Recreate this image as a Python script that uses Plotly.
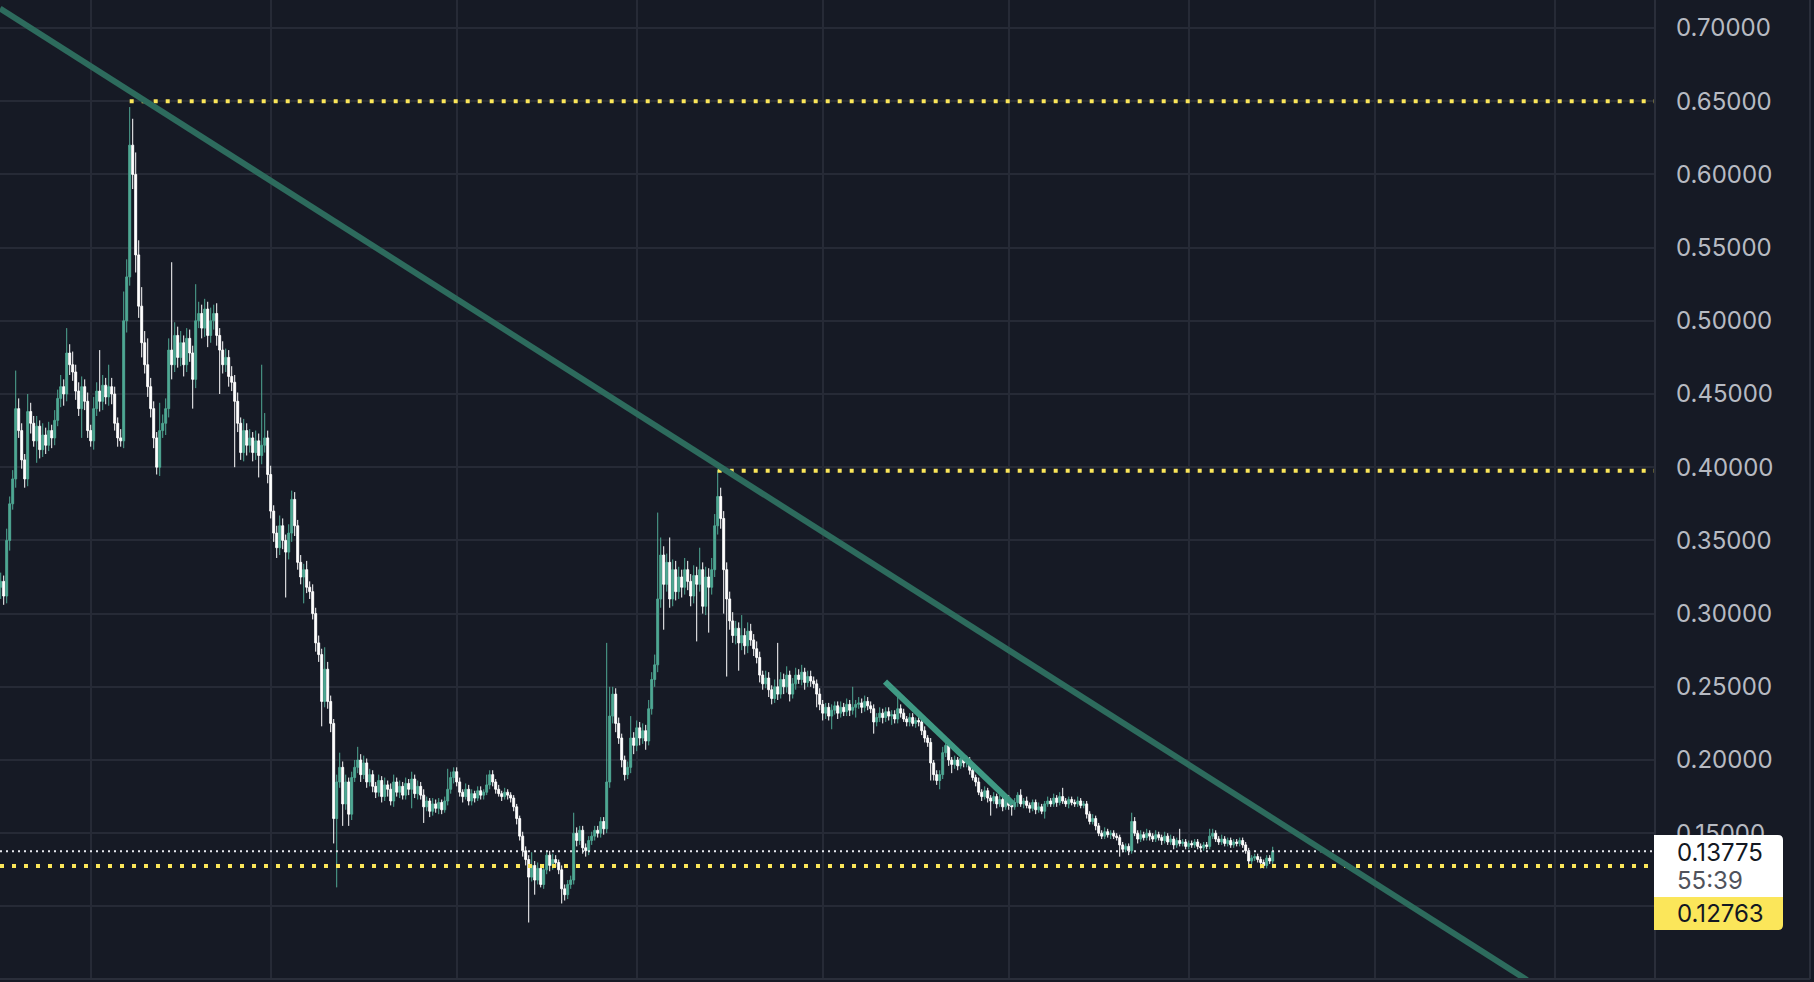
import plotly.graph_objects as go
import pandas as pd

# ---------------- data (12h candles, prices in thousandths) ----------------
START = "2024-03-17 00:00"
OPEN0 = 0.318
CLOSE_MILLI = [
    322, 312, 350, 375, 392, 440, 425, 405, 392, 438, 430, 418, 428, 412, 422, 415, 425, 420, 432, 447, 455, 450, 478, 470, 465,
    452, 440, 455, 445, 425, 418, 440, 452, 445, 456, 448, 455, 450, 430, 420, 418, 500, 530, 620, 600, 545, 510, 485, 470, 455,
    440, 420, 400, 425, 430, 440, 480, 470, 490, 475, 485, 470, 488, 478, 460, 500, 505, 495, 508, 490, 500, 505, 490, 480, 470,
    475, 462, 458, 445, 430, 410, 425, 415, 420, 410, 418, 408, 415, 420, 395, 370, 355, 345, 360, 350, 342, 355, 378, 360, 335,
    325, 330, 318, 315, 300, 280, 272, 240, 262, 240, 225, 160, 185, 195, 170, 185, 163, 188, 195, 200, 190, 198, 185, 190, 182,
    178, 186, 175, 183, 180, 172, 185, 178, 182, 176, 184, 180, 187, 177, 182, 176, 168, 172, 165, 170, 167, 171, 166, 172, 180,
    188, 192, 185, 178, 175, 180, 172, 177, 174, 179, 176, 178, 183, 190, 185, 180, 177, 175, 178, 176, 174, 168, 160, 148, 138,
    132, 120, 128, 118, 126, 115, 125, 135, 128, 132, 130, 125, 112, 108, 115, 118, 150, 145, 152, 140, 138, 145, 148, 152, 150,
    158, 153, 185, 230, 245, 225, 215, 200, 190, 195, 215, 210, 222, 215, 220, 213, 235, 255, 265, 310, 340, 320, 335, 310, 330,
    315, 325, 318, 330, 322, 312, 326, 320, 330, 305, 325, 318, 330, 360, 380, 365, 330, 310, 295, 285, 290, 280, 285, 278, 288,
    282, 276, 270, 258, 252, 256, 248, 242, 250, 245, 255, 250, 258, 245, 252, 258, 255, 260, 253, 257, 254, 252, 245, 238, 232,
    236, 230, 234, 237, 232, 236, 233, 238, 234, 236, 238, 239, 236, 240, 237, 235, 226, 229, 232, 229, 233, 230, 231, 228, 235,
    232, 228, 226, 229, 225, 227, 226, 220, 215, 212, 198, 190, 186, 190, 205, 210, 200, 197, 200, 196, 201, 198, 200, 193, 188,
    185, 178, 175, 179, 174, 172, 175, 170, 173, 168, 174, 169, 168, 171, 176, 170, 172, 169, 167, 171, 166, 168, 165, 170, 172,
    170, 174, 171, 175, 172, 170, 173, 171, 170, 172, 169, 170, 163, 158, 160, 155, 150, 148, 151, 149, 150, 148, 147, 142, 139,
    141, 138, 158, 150, 146, 149, 147, 150, 148, 146, 149, 147, 145, 148, 144, 146, 142, 145, 143, 144, 141, 143, 142, 144, 141,
    140, 142, 141, 148, 150, 146, 144, 146, 143, 145, 142, 144, 143, 145, 142, 138, 131, 133, 134, 132, 130, 128, 133, 131, 137.75,
]
WICK_UP_MILLI = [
    6, 4, 8, 5, 6, 26, 7, 5, 4, 12, 6, 5, 7, 4, 8, 5, 6, 4, 7, 6, 8, 5, 17, 6, 9,
    5, 6, 7, 5, 6, 4, 8, 6, 28, 7, 5, 15, 6, 5, 4, 6, 20, 12, 26, 18, 15, 10, 13, 8, 18,
    6, 5, 4, 19, 6, 7, 8, 60, 9, 6, 8, 5, 7, 6, 5, 25, 8, 6, 7, 5, 9, 6, 7, 5, 6,
    6, 5, 7, 5, 6, 4, 8, 5, 6, 4, 7, 5, 55, 17, 5, 6, 4, 5, 7, 5, 4, 6, 6, 5, 4,
    5, 4, 6, 4, 5, 4, 5, 4, 15, 5, 4, 3, 5, 10, 4, 5, 3, 4, 5, 9, 4, 5, 3, 4, 3,
    3, 4, 3, 5, 3, 4, 5, 3, 4, 3, 4, 3, 5, 3, 4, 3, 4, 3, 2, 4, 3, 3, 2, 3, 14,
    4, 3, 3, 3, 2, 4, 3, 3, 2, 3, 3, 2, 7, 3, 3, 2, 3, 2, 3, 2, 2, 2, 2, 2, 3,
    3, 3, 9, 3, 4, 3, 4, 3, 3, 4, 3, 2, 3, 3, 3, 3, 14, 4, 3, 3, 3, 3, 3, 3, 3,
    3, 3, 95, 20, 5, 4, 4, 3, 3, 4, 15, 4, 5, 4, 5, 4, 6, 5, 7, 59, 12, 6, 6, 17, 7,
    6, 7, 5, 8, 6, 5, 7, 6, 15, 5, 7, 6, 8, 8, 18, 6, 5, 5, 5, 6, 5, 4, 14, 5, 6,
    5, 4, 5, 4, 3, 5, 4, 3, 5, 30, 5, 4, 6, 3, 4, 5, 4, 5, 3, 4, 4, 3, 3, 4, 3,
    3, 3, 4, 3, 3, 4, 3, 4, 3, 14, 3, 4, 3, 4, 3, 3, 3, 3, 4, 3, 3, 3, 3, 3, 11,
    3, 3, 2, 3, 3, 2, 3, 2, 3, 2, 3, 2, 3, 3, 4, 5, 3, 2, 3, 2, 3, 2, 3, 2, 3,
    2, 3, 2, 3, 2, 2, 3, 2, 3, 2, 3, 2, 2, 3, 2, 4, 2, 3, 2, 2, 2, 3, 2, 2, 3,
    2, 3, 2, 3, 6, 2, 2, 2, 2, 3, 2, 2, 2, 2, 3, 2, 2, 2, 3, 2, 2, 2, 2, 2, 2,
    2, 2, 6, 3, 2, 3, 2, 3, 2, 2, 3, 2, 2, 3, 2, 3, 2, 2, 8, 2, 2, 2, 2, 2, 2,
    2, 2, 2, 5, 3, 2, 2, 3, 2, 2, 2, 2, 2, 2, 2, 2, 2, 2, 2, 2, 2, 2, 2, 2, 3,
]
WICK_DN_MILLI = [
    8, 6, 5, 7, 4, 6, 5, 6, 6, 5, 7, 4, 15, 6, 5, 6, 4, 7, 5, 4, 6, 8, 5, 7, 6,
    6, 5, 20, 6, 5, 4, 6, 5, 7, 6, 5, 6, 7, 5, 6, 4, 5, 8, 6, 10, 12, 8, 10, 6, 7,
    6, 7, 5, 6, 5, 8, 6, 10, 5, 7, 6, 8, 5, 6, 20, 6, 5, 7, 6, 8, 5, 6, 7, 30, 6,
    5, 7, 6, 45, 6, 5, 6, 7, 5, 6, 5, 15, 6, 5, 6, 5, 6, 7, 5, 6, 31, 5, 6, 7, 5,
    5, 18, 4, 5, 4, 6, 5, 17, 4, 5, 6, 17, 47, 4, 15, 4, 8, 4, 3, 4, 5, 3, 4, 3, 4,
    4, 3, 4, 3, 5, 3, 4, 3, 4, 3, 3, 4, 13, 3, 4, 3, 11, 3, 4, 3, 3, 4, 3, 2, 3,
    3, 4, 3, 3, 4, 2, 3, 3, 3, 2, 3, 3, 2, 3, 3, 3, 2, 3, 2, 3, 3, 3, 4, 3, 4,
    4, 31, 3, 10, 3, 2, 3, 3, 4, 3, 3, 3, 10, 4, 3, 3, 3, 4, 3, 4, 4, 3, 3, 3, 3,
    3, 4, 3, 4, 5, 6, 4, 5, 4, 3, 4, 6, 4, 5, 4, 6, 3, 4, 5, 5, 6, 31, 5, 6, 5,
    6, 5, 7, 5, 6, 7, 5, 39, 5, 5, 6, 31, 5, 5, 6, 7, 30, 53, 6, 5, 6, 19, 5, 6, 5,
    4, 5, 4, 5, 4, 3, 5, 4, 3, 4, 3, 5, 4, 5, 3, 4, 3, 4, 5, 3, 4, 3, 9, 4, 5,
    4, 3, 9, 3, 4, 3, 3, 3, 4, 3, 7, 3, 4, 3, 3, 3, 8, 3, 3, 4, 3, 3, 6, 3, 3,
    3, 2, 3, 3, 2, 3, 3, 3, 3, 3, 12, 4, 3, 6, 3, 3, 4, 6, 3, 3, 2, 3, 3, 3, 2,
    3, 2, 3, 2, 3, 10, 2, 3, 2, 3, 2, 3, 6, 2, 3, 2, 3, 2, 3, 2, 3, 2, 2, 5, 2,
    2, 2, 3, 2, 2, 2, 3, 2, 2, 2, 2, 2, 3, 2, 2, 3, 2, 2, 2, 2, 3, 2, 2, 8, 2,
    2, 3, 2, 2, 3, 2, 2, 2, 3, 2, 2, 2, 3, 2, 2, 2, 3, 2, 2, 2, 2, 2, 2, 2, 2,
    2, 2, 2, 2, 2, 2, 2, 2, 2, 2, 2, 2, 2, 2, 2, 2, 3, 2, 2, 2, 4, 2, 2, 2, 2,
]

Y_TICKS = [0.10, 0.15, 0.20, 0.25, 0.30, 0.35, 0.40, 0.45, 0.50, 0.55, 0.60, 0.65, 0.70]
LAST_PRICE = 0.13775
COUNTDOWN = "55:39"
LEVEL_LOW = 0.12763
LEVEL_MID = 0.3976
LEVEL_HIGH = 0.65
LEVEL_HIGH_START = "2024-04-07 12:00"
LEVEL_MID_START = "2024-07-14 12:00"
TREND_LONG_X = ["2024-03-16 21:12", "2024-11-26 09:12"]
TREND_LONG_Y = [0.71332, 0.04973]
TREND_SHORT_X = ["2024-08-11 09:12", "2024-09-01 17:12"]
TREND_SHORT_Y = [0.2535, 0.1700]
X_RANGE = ["2024-03-16 21:12", "2024-12-17 17:12"]
Y_RANGE = [0.05041, 0.71913]

# ---------------- build candles ----------------
dates = pd.date_range(START, periods=len(CLOSE_MILLI), freq="12h")
close = [c / 1000 for c in CLOSE_MILLI]
open_ = [OPEN0] + close[:-1]
high = [max(o, c) + w / 1000 for o, c, w in zip(open_, close, WICK_UP_MILLI)]
low = [min(o, c) - w / 1000 for o, c, w in zip(open_, close, WICK_DN_MILLI)]

BG = "#161a25"
GRID = "#262a36"
UP = "#4fa893"
DOWN = "#ffffff"
YELLOW = "#fbe65a"
W, H = 1814, 982
PW, PH = 1655, 979  # plot area size in px

fig = go.Figure()
fig.add_trace(go.Candlestick(
    x=dates, open=open_, high=high, low=low, close=close,
    increasing=dict(line=dict(color=UP, width=1), fillcolor=UP),
    decreasing=dict(line=dict(color=DOWN, width=1), fillcolor=DOWN),
    whiskerwidth=0, hoverinfo="skip", showlegend=False,
))


def px2paper(x, y):
    return x / PW, (PH - y) / PH


def rounded_box(x0, y0, x1, y1, r_tr, r_br):
    a = px2paper(x0, y0); b = px2paper(x1 - r_tr, y0); c = px2paper(x1, y0); d = px2paper(x1, y0 + r_tr)
    e = px2paper(x1, y1 - r_br); f = px2paper(x1, y1); g = px2paper(x1 - r_br, y1); h = px2paper(x0, y1)
    return (f"M{a[0]},{a[1]} L{b[0]},{b[1]} Q{c[0]},{c[1]} {d[0]},{d[1]} "
            f"L{e[0]},{e[1]} Q{f[0]},{f[1]} {g[0]},{g[1]} L{h[0]},{h[1]} Z")


shapes = [
    # dotted horizontal levels
    dict(type="line", xref="x", yref="y", x0=LEVEL_HIGH_START, x1=X_RANGE[1], y0=LEVEL_HIGH, y1=LEVEL_HIGH,
         line=dict(color=YELLOW, width=4, dash="4px,8px"), layer="above"),
    dict(type="line", xref="x", yref="y", x0=LEVEL_MID_START, x1=X_RANGE[1], y0=LEVEL_MID, y1=LEVEL_MID,
         line=dict(color=YELLOW, width=4, dash="4px,8px"), layer="above"),
    dict(type="line", xref="x", yref="y", x0=X_RANGE[0], x1=X_RANGE[1], y0=LEVEL_LOW, y1=LEVEL_LOW,
         line=dict(color=YELLOW, width=4, dash="4px,8px"), layer="above"),
    dict(type="line", xref="x", yref="y", x0=X_RANGE[0], x1=X_RANGE[1], y0=LAST_PRICE, y1=LAST_PRICE,
         line=dict(color="#e6e8ee", width=2, dash="2px,4px"), layer="above"),
    # trend lines
    dict(type="line", xref="x", yref="y", x0=TREND_LONG_X[0], x1=TREND_LONG_X[1],
         y0=TREND_LONG_Y[0], y1=TREND_LONG_Y[1], line=dict(color="#2d6b5d", width=6), layer="above"),
    dict(type="line", xref="x", yref="y", x0=TREND_SHORT_X[0], x1=TREND_SHORT_X[1],
         y0=TREND_SHORT_Y[0], y1=TREND_SHORT_Y[1], line=dict(color="#3f9a84", width=6), layer="above"),
    # axis separators / borders
    dict(type="line", xref="paper", yref="paper", x0=1.0, x1=1.0, y0=0, y1=1.01,
         line=dict(color="#2a2e3a", width=2), layer="above"),
    dict(type="line", xref="paper", yref="paper", x0=1810 / PW, x1=1810 / PW, y0=0, y1=1.01,
         line=dict(color="#2a2e3a", width=2), layer="above"),
    dict(type="line", xref="paper", yref="paper", x0=0, x1=1810 / PW, y0=0, y1=0,
         line=dict(color="#2a2e3a", width=2), layer="above"),
    # price label boxes
    dict(type="path", xref="paper", yref="paper", path=rounded_box(1654, 835, 1783, 897, 5, 0),
         fillcolor="#ffffff", line=dict(width=0), layer="above"),
    dict(type="path", xref="paper", yref="paper", path=rounded_box(1654, 897, 1783, 930, 0, 5),
         fillcolor=YELLOW, line=dict(width=0), layer="above"),
]

annotations = []
for txt, ypx, col in [(f"{LAST_PRICE:.5f}", 852, "#131722"), (COUNTDOWN, 880, "#50535c"),
                      (f"{LEVEL_LOW:.5f}", 913.5, "#131722")]:
    ax, ay = px2paper(1675, ypx)
    annotations.append(dict(xref="paper", yref="paper", x=ax, y=ay, xanchor="left", yanchor="middle",
                            text=txt, showarrow=False, font=dict(size=24, color=col, family="Inter")))

fig.update_layout(
    width=W, height=H, autosize=False,
    margin=dict(l=0, r=W - PW, t=0, b=H - PH, pad=0),
    paper_bgcolor=BG, plot_bgcolor=BG,
    font=dict(family="Inter", color="#b7bac2"),
    showlegend=False, hovermode=False,
    boxgap=0.25, boxgroupgap=0.15,
    shapes=shapes, annotations=annotations,
    xaxis=dict(type="date", range=X_RANGE, rangeslider=dict(visible=False),
               showgrid=True, gridcolor=GRID, gridwidth=1.5, dtick="M1", tick0="2024-04-01",
               showticklabels=False, ticks="", zeroline=False, showline=False, fixedrange=True),
    yaxis=dict(side="right", range=Y_RANGE, tickvals=Y_TICKS, ticktext=[f"{v:.5f}" for v in Y_TICKS],
               showgrid=True, gridcolor=GRID, gridwidth=1.5, ticks="", ticklabelstandoff=20,
               tickfont=dict(size=24, color="#b7bac2", family="Inter"),
               zeroline=False, showline=False, fixedrange=True),
)

fig.write_html("out.html", config={"displayModeBar": False},
               post_script="document.body.style.margin='0';document.body.style.overflow='hidden';")
